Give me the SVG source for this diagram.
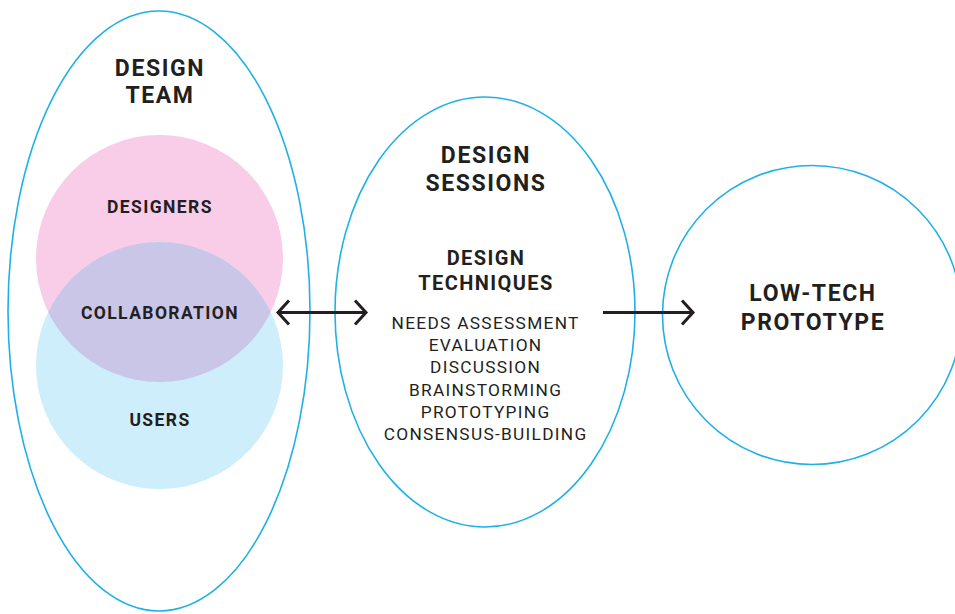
<svg xmlns="http://www.w3.org/2000/svg" width="955" height="614" viewBox="0 0 955 614">
<style>
.outline{fill:none;stroke:#1fb0ea;stroke-width:1.6}
.t{font-family:Roboto,"Liberation Sans",sans-serif;fill:#231f20;text-anchor:middle}
.b{font-weight:700}
.h1{font-size:23px;letter-spacing:1.6px}
.h2{font-size:20px;letter-spacing:1.4px}
.h3{font-size:17.5px;letter-spacing:1.4px}
.li{font-size:17.3px;font-weight:400;letter-spacing:1.3px}
.arrow{fill:none;stroke:#231f20;stroke-width:3;stroke-linecap:butt;stroke-linejoin:miter}
</style>
<defs>
<clipPath id="pinkClip"><circle cx="159.5" cy="258.5" r="123.5"/></clipPath>
</defs>
<rect width="955" height="614" fill="#ffffff"/>
<g id="design-team">
<ellipse class="outline" cx="159" cy="311" rx="151" ry="300"/>
<text class="t b h1" x="160" y="76">DESIGN</text>
<text class="t b h1" x="160" y="103">TEAM</text>
</g>
<g id="designers">
<circle cx="159.5" cy="258.5" r="123.5" fill="#f9cce8"/>
</g>
<g id="users">
<circle cx="159.5" cy="365.5" r="123.5" fill="#cdeefa"/>
</g>
<g id="collaboration">
<circle cx="159.5" cy="365.5" r="123.5" fill="#cac6e8" clip-path="url(#pinkClip)"/>
<text class="t b h3" x="160" y="212.7">DESIGNERS</text>
<text class="t b h3" x="160" y="319.3">COLLABORATION</text>
<text class="t b h3" x="160" y="425.7">USERS</text>
</g>
<g id="design-sessions">
<ellipse class="outline" cx="485" cy="312" rx="150" ry="215"/>
<text class="t b h1" x="486" y="162.5">DESIGN</text>
<text class="t b h1" x="486" y="190.7">SESSIONS</text>
<text class="t b h2" x="486" y="265">DESIGN</text>
<text class="t b h2" x="486" y="290">TECHNIQUES</text>
<text class="t li" x="485.6" y="329">NEEDS ASSESSMENT</text>
<text class="t li" x="485.6" y="351">EVALUATION</text>
<text class="t li" x="485.6" y="373.3">DISCUSSION</text>
<text class="t li" x="485.6" y="395.7">BRAINSTORMING</text>
<text class="t li" x="485.6" y="417.5">PROTOTYPING</text>
<text class="t li" x="485.6" y="440">CONSENSUS-BUILDING</text>
</g>
<g id="low-tech-prototype">
<circle class="outline" cx="812" cy="315" r="149.5"/>
<text class="t b h1" x="813" y="301">LOW-TECH</text>
<text class="t b h1" x="813" y="330">PROTOTYPE</text>
</g>
<g id="connectors">
<path class="arrow" d="M279 312.5 H365"/>
<path class="arrow" d="M289 300.5 L278 312.5 L289 324.5"/>
<path class="arrow" d="M355 300.5 L366 312.5 L355 324.5"/>
<path class="arrow" d="M603 312.5 H692"/>
<path class="arrow" d="M682 300.5 L693 312.5 L682 324.5"/>
</g>
</svg>
